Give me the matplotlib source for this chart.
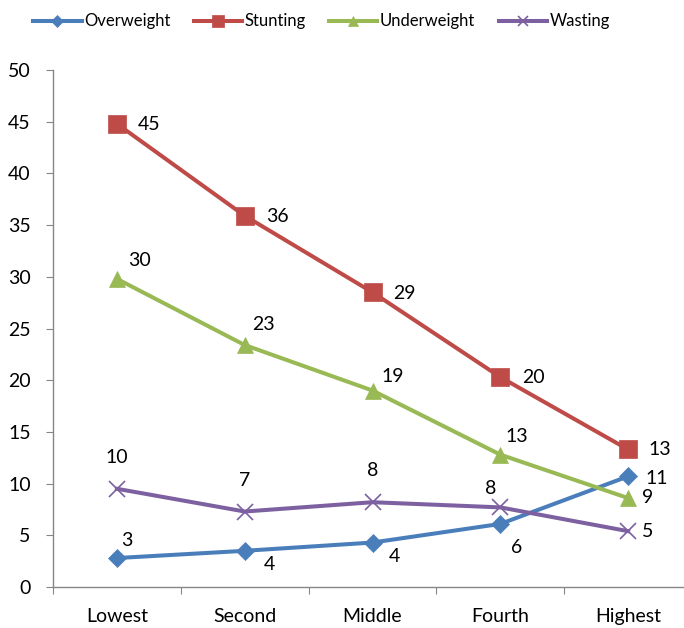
import matplotlib
matplotlib.use("Agg")
import matplotlib.pyplot as plt
import numpy as np

# Quintile categories
categories = ["Lowest", "Second", "Middle", "Fourth", "Highest"]

# Series values (plotted) and their printed labels
overweight = [2.8, 3.5, 4.3, 6.1, 10.7]
stunting = [44.8, 35.9, 28.5, 20.3, 13.3]
underweight = [29.8, 23.4, 19.0, 12.8, 8.6]
wasting = [9.5, 7.3, 8.2, 7.7, 5.4]

overweight_labels = ["3", "4", "4", "6", "11"]
stunting_labels = ["45", "36", "29", "20", "13"]
underweight_labels = ["30", "23", "19", "13", "9"]
wasting_labels = ["10", "7", "8", "8", "5"]

plt.rcParams.update({
    "font.family": ["Lato", "DejaVu Sans"],
    "font.size": 14,
})

fig = plt.figure(figsize=(6.84, 6.28), dpi=100)
ax = fig.add_axes([53 / 684, 41 / 628, 639 / 684, 517 / 628])

x = np.arange(len(categories))

# (name, values, labels, colour, marker, markersize, label offsets in px)
series = [
    ("Overweight", overweight, overweight_labels, "#4A7EBB", "D", 9,
     [(10, 18), (25, -14), (22, -14), (16, -24), (29, -2)]),
    ("Stunting", stunting, stunting_labels, "#BE4B48", "s", 12.5,
     [(32, -1), (33, -1), (32, -1), (33, 0), (32, 0)]),
    ("Underweight", underweight, underweight_labels, "#98B954", "^", 11,
     [(23, 18), (19, 21), (20, 14), (16, 18), (20, 1)]),
    ("Wasting", wasting, wasting_labels, "#7D60A0", "x", 11,
     [(0, 31), (0, 31), (0, 32), (-10, 19), (20, 0)]),
]

for name, vals, labs, col, mk, ms, offs in series:
    ax.plot(x, vals, color=col, linewidth=2.9, marker=mk, markersize=ms,
            markeredgewidth=1.2 if mk == "x" else 0.5,
            markeredgecolor=col, label=name, clip_on=False)
    for xi, yi, lab, (dx, dy) in zip(x, vals, labs, offs):
        ax.annotate(lab, (xi, yi), textcoords="offset pixels",
                    xytext=(dx, dy), ha="center", va="center",
                    fontsize=14, color="black")

ax.set_xlim(-0.5, len(categories) - 0.5)
ax.set_ylim(0, 50)
ax.set_yticks(np.arange(0, 51, 5))

ax.set_xticks(np.arange(-0.5, len(categories), 1.0))
ax.set_xticklabels([])
ax.set_xticks(x, minor=True)
ax.set_xticklabels(categories, minor=True)

for s in ["top", "right"]:
    ax.spines[s].set_visible(False)
for s in ["left", "bottom"]:
    ax.spines[s].set_color("#868686")
    ax.spines[s].set_linewidth(1.0)

ax.tick_params(axis="y", direction="out", length=5, color="#868686",
               pad=11, labelsize=14)
ax.tick_params(axis="x", which="major", direction="out", length=5,
               color="#868686")
ax.tick_params(axis="x", which="minor", length=0, pad=15, labelsize=14)

fig.legend(loc="center", bbox_to_anchor=(0.47, 0.966), ncol=4,
           frameon=False, fontsize=12, handlelength=2.9, handletextpad=0.15,
           columnspacing=1.4, borderaxespad=0, markerscale=0.7)

fig.savefig("out.png", dpi=100)
